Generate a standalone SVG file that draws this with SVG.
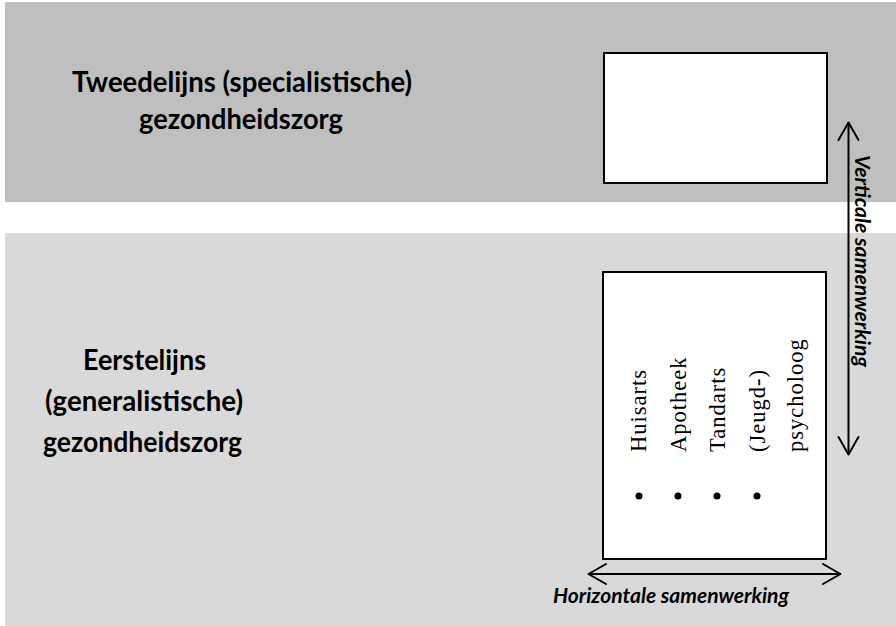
<svg xmlns="http://www.w3.org/2000/svg" width="896" height="626" viewBox="0 0 896 626">
<style>
.lbl{font-family:Lato,"Open Sans","Liberation Sans",sans-serif;font-weight:bold;font-size:29px;fill:#000;text-anchor:middle}
.ax{font-family:Lato,"Open Sans","Liberation Sans",sans-serif;font-weight:bold;font-style:italic;font-size:21px;fill:#000}
.item{font-family:"Liberation Serif","Times New Roman",serif;font-size:22.5px;letter-spacing:1px;fill:#000}
.box{fill:#fff;stroke:#000;stroke-width:2}
.ln{fill:none;stroke:#000;stroke-width:2;stroke-linecap:round;stroke-linejoin:round}
</style>
<rect width="896" height="626" fill="#fff"/>
<g id="band-tweedelijns">
<rect x="5" y="2" width="891" height="200" fill="#bfbfbf"/>
<text class="lbl" x="242" y="92" textLength="340" lengthAdjust="spacingAndGlyphs">Tweedelijns (specialistische)</text>
<text class="lbl" x="241" y="129" textLength="204" lengthAdjust="spacingAndGlyphs">gezondheidszorg</text>
</g>
<g id="band-eerstelijns">
<rect x="5" y="233" width="891" height="393" fill="#d9d9d9"/>
<text class="lbl" x="144.5" y="370" textLength="123" lengthAdjust="spacingAndGlyphs">Eerstelijns</text>
<text class="lbl" x="144" y="411" textLength="198" lengthAdjust="spacingAndGlyphs">(generalistische)</text>
<text class="lbl" x="142.5" y="452" textLength="199" lengthAdjust="spacingAndGlyphs">gezondheidszorg</text>
</g>
<g id="box-tweedelijns">
<rect class="box" x="604" y="53" width="223" height="130"/>
</g>
<g id="box-eerstelijns">
<rect class="box" x="603" y="272" width="223" height="287"/>
<text class="item" transform="translate(646,452) rotate(-90)">Huisarts</text>
<text class="item" transform="translate(685.5,452) rotate(-90)">Apotheek</text>
<text class="item" transform="translate(725,452) rotate(-90)">Tandarts</text>
<text class="item" transform="translate(764.5,452) rotate(-90)">(Jeugd-)</text>
<text class="item" transform="translate(803,452) rotate(-90)">psycholoog</text>
<circle cx="639" cy="496" r="3.5"/>
<circle cx="678" cy="496" r="3.5"/>
<circle cx="717" cy="496" r="3.5"/>
<circle cx="757" cy="496" r="3.5"/>
</g>
<g id="connectors">
<g id="vertical">
<line class="ln" x1="848.5" y1="123" x2="848.5" y2="454"/>
<polyline class="ln" points="838.5,140 848.5,122.5 858.5,140"/>
<polyline class="ln" points="838.5,437 848.5,454.5 858.5,437"/>
<text class="ax" transform="translate(855,155) rotate(90)" textLength="212" lengthAdjust="spacingAndGlyphs">Verticale samenwerking</text>
</g>
<g id="horizontal">
<line class="ln" x1="589" y1="574" x2="840" y2="574"/>
<polyline class="ln" points="606,564 588.5,574 606,584"/>
<polyline class="ln" points="823,564 840.5,574 823,584"/>
<text class="ax" x="553" y="603" textLength="236" lengthAdjust="spacingAndGlyphs">Horizontale samenwerking</text>
</g>
</g>
</svg>
